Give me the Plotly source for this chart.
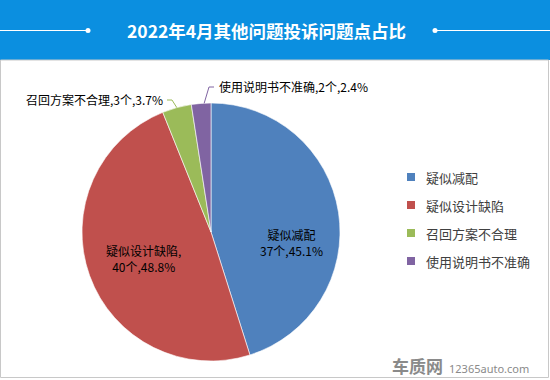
import plotly.graph_objects as go
import math

labels = ["疑似减配", "疑似设计缺陷", "召回方案不合理", "使用说明书不准确"]
counts = [37, 40, 3, 2]
percents = [45.1, 48.8, 3.7, 2.4]
colors = ["#4f81bd", "#c0504d", "#9bbb59", "#8064a2"]
title_text = "2022年4月其他问题投诉问题点占比"

W, H = 550, 380
cx, cy, r = 211, 232, 129  # pie center / radius in pixels

def px(x):
    return x / W

def py(y):
    return 1 - y / H

fig = go.Figure()
fig.add_trace(go.Pie(
    labels=labels, values=counts, sort=False, direction="clockwise", rotation=0,
    marker=dict(colors=colors, line=dict(color="rgba(255,255,255,0.6)", width=1)),
    textinfo="none",
    domain=dict(x=[px(cx - r), px(cx + r)], y=[py(cy + r), py(cy - r)]),
    showlegend=False, hoverinfo="label+value+percent",
))

shapes = []
annotations = []
# title bar
shapes.append(dict(type="rect", xref="paper", yref="paper", x0=0, x1=1, y0=py(60), y1=1,
                   fillcolor="#0b8fe0", line=dict(width=0), layer="below"))
# frame
shapes.append(dict(type="rect", xref="paper", yref="paper", x0=px(0.5), x1=px(548.5), y0=py(377.5), y1=py(60),
                   fillcolor="rgba(0,0,0,0)", line=dict(color="#c8c8c8", width=1)))
# decorative lines in title
shapes.append(dict(type="line", xref="paper", yref="paper", x0=0, x1=px(88), y0=py(30.5), y1=py(30.5),
                   line=dict(color="white", width=1)))
shapes.append(dict(type="line", xref="paper", yref="paper", x0=px(435), x1=1, y0=py(30.5), y1=py(30.5),
                   line=dict(color="white", width=1)))
for xd in (88, 435):
    shapes.append(dict(type="circle", xref="paper", yref="paper", x0=px(xd - 2.5), x1=px(xd + 2.5),
                       y0=py(30.5 + 2.5), y1=py(30.5 - 2.5), fillcolor="white", line=dict(width=0)))

annotations.append(dict(text=f"<b>{title_text}</b>", xref="paper", yref="paper", x=px(266), y=py(30),
                        showarrow=False, font=dict(family="Noto Sans CJK SC", size=17.5, color="white"),
                        xanchor="center", yanchor="middle"))

lab_font = dict(family="Noto Sans CJK SC", size=12, color="#000000")
# inside labels (big slices)
annotations.append(dict(text=f"{labels[0]}<br>{counts[0]}个,{percents[0]}%", xref="paper", yref="paper",
                        x=px(291), y=py(242), xanchor="center", yanchor="middle", showarrow=False,
                        font=lab_font))
annotations.append(dict(text=f"{labels[1]},<br>{counts[1]}个,{percents[1]}%", xref="paper", yref="paper",
                        x=px(143), y=py(258), xanchor="center", yanchor="middle", showarrow=False,
                        font=lab_font))

# outside labels with leader lines for the small slices
total = sum(counts)
cum = 0
mids = []
for c in counts:
    mids.append((cum + c / 2) / total)
    cum += c

def edge(frac):
    a = 2 * math.pi * frac
    return cx + r * math.sin(a), cy - r * math.cos(a)

# green slice
gx, gy = edge(mids[2])
shapes.append(dict(type="path", xref="paper", yref="paper",
                   path=f"M {px(167)} {py(100)} L {px(172)} {py(100)} L {px(gx)} {py(gy)}",
                   line=dict(color="#9bbb59", width=1)))
annotations.append(dict(text=f"{labels[2]},{counts[2]}个,{percents[2]}%", xref="paper", yref="paper",
                        x=px(165), y=py(100), xanchor="right", yanchor="middle", showarrow=False,
                        font=lab_font))
# purple slice
ux, uy = edge(mids[3])
shapes.append(dict(type="path", xref="paper", yref="paper",
                   path=f"M {px(214)} {py(87)} L {px(209)} {py(87)} L {px(ux + 3)} {py(uy)}",
                   line=dict(color="#8064a2", width=1)))
annotations.append(dict(text=f"{labels[3]},{counts[3]}个,{percents[3]}%", xref="paper", yref="paper",
                        x=px(217), y=py(87), xanchor="left", yanchor="middle", showarrow=False,
                        font=lab_font))

# legend
for i, (lab, col) in enumerate(zip(labels, colors)):
    yc = 177 + 28 * i
    shapes.append(dict(type="rect", xref="paper", yref="paper", x0=px(407), x1=px(415),
                       y0=py(yc + 4), y1=py(yc - 4), fillcolor=col, line=dict(width=0)))
    annotations.append(dict(text=lab, xref="paper", yref="paper", x=px(424), y=py(yc),
                            xanchor="left", yanchor="middle", showarrow=False,
                            font=dict(family="Noto Sans CJK SC", size=13, color="#404040")))

# watermark
annotations.append(dict(text="<b>车质网</b>", xref="paper", yref="paper", x=px(445), y=py(365),
                        xanchor="right", yanchor="middle", showarrow=False,
                        font=dict(family="Noto Sans CJK SC", size=17, color="#8a8a8a")))
annotations.append(dict(text="12365auto.com", xref="paper", yref="paper", x=px(447), y=py(368),
                        xanchor="left", yanchor="middle", showarrow=False,
                        font=dict(family="Noto Sans", size=11, color="#8a8a8a")))

fig.update_layout(width=W, height=H, margin=dict(l=0, r=0, t=0, b=0),
                  paper_bgcolor="white", plot_bgcolor="white",
                  shapes=shapes, annotations=annotations)
fig.write_html("out.html", config={"displayModeBar": False},
               post_script="document.body.style.margin='0';document.body.style.overflow='hidden';")
